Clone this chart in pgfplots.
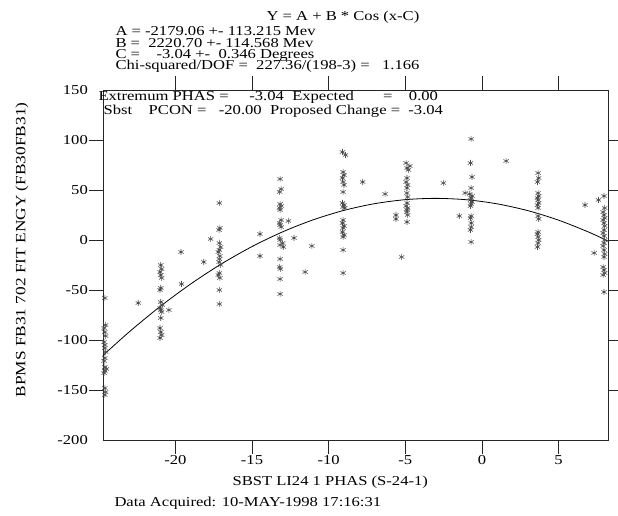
\documentclass[border=0pt]{standalone}
\usepackage{fontspec}
\setmainfont{Liberation Serif}[FakeStretch=1.22]
\usepackage{pgfplots}
\pgfplotsset{compat=1.18}
\newcommand\fs{\fontsize{13.6}{15}\selectfont}
\begin{document}
\begin{tikzpicture}[font=\fs]
\begin{axis}[
  scale only axis, width=505pt, height=350pt,
  xmin=-24.72, xmax=8.22, ymin=-200, ymax=150,
  clip=false,
  axis line style={black!85, line width=0.8pt},
  xtick pos=both, ytick pos=both,
  tick align=outside, major tick length=14pt,
  major tick style={black!85, line width=0.8pt},
  tick label style={font=\fs},
  xtick={-20,-15,-10,-5,0,5}, xticklabels={-20,-15,-10,-5,0,5},
  ytick={-150,-100,-50,0,50,100}, yticklabels={-150,-100,-50,0,50,100},
  extra y ticks={-200,150}, extra y tick labels={-200,150},
  extra y tick style={major tick style={draw=none}},
  xticklabel style={inner sep=1pt},
  yticklabel style={inner sep=1pt},
  xlabel={SBST LI24 1 PHAS (S-24-1)},
  xlabel style={at={(axis description cs:0.45,-0.1286)}, anchor=base, font=\fs},
  ylabel={BPMS FB31 702 FIT ENGY (FB30FB31)},
  ylabel style={at={(axis description cs:-0.1604,0.543)}, anchor=center, font=\fontsize{14.2}{15}\selectfont},
]
% fit Y = A + B cos(x-C)
\addplot[black, line width=0.8pt, smooth] coordinates {
  (-24.72,-115.43)(-23,-91.76)(-21,-66.60)(-19,-43.97)(-17,-23.94)(-15,-6.57)
  (-13,8.17)(-11,20.23)(-9,29.63)(-7,36.33)(-5,40.34)(-3.04,41.64)(-1,40.24)
  (1,36.13)(3,29.32)(5,19.81)(7,7.64)(8.22,-1.11)};
% measurements
\addplot[only marks, mark=asterisk, mark size=3pt, black!70, mark options={line width=0.6pt}] coordinates {
  (-24.6,-58)(-24.55,-85)(-24.65,-88)(-24.6,-92)(-24.55,-96)(-24.65,-102)(-24.6,-105)
  (-24.6,-108)(-24.55,-112)(-24.6,-118)(-24.65,-121)(-24.6,-127)(-24.5,-129)(-24.6,-131)
  (-24.65,-133)(-24.6,-148)(-24.55,-152)(-24.6,-155)
  (-20.95,-25)(-20.9,-29)(-21.0,-32)(-20.95,-35)(-20.9,-38)(-20.95,-48)(-21.0,-50)
  (-20.95,-62)(-20.85,-65)(-21.0,-68)(-20.95,-70)(-20.9,-72)(-20.95,-78)(-21.0,-88)
  (-20.95,-92)(-20.9,-95)(-21.0,-98)
  (-17.13,37)(-17.1,12)(-17.15,10)(-17.13,-3)(-17.05,-7)(-17.13,-10)(-17.2,-12)
  (-17.1,-16)(-17.13,-19)(-17.15,-22)(-17.05,-25)(-17.13,-33)(-17.2,-35)(-17.1,-38)
  (-17.13,-50)(-17.13,-64)
  (-13.17,61)(-13.1,51)(-13.2,48)(-13.17,36)(-13.1,34)(-13.2,32)(-13.17,30)
  (-13.1,20)(-13.2,17)(-13.17,15)(-13.1,13)(-13.2,2)(-13.17,0)(-13.0,-3)
  (-13.17,-5)(-12.96,-7)(-13.17,-19)(-13.2,-27)(-13.15,-29)(-13.17,-39)(-13.17,-54)
  (-9.1,88)(-8.9,85)(-9.06,68)(-9.0,65)(-9.1,62)(-9.06,58)(-9.0,55)
  (-9.06,48)(-9.1,37)(-9.0,35)(-9.06,33)(-8.95,32)(-9.06,20)(-9.1,17)
  (-9.0,14)(-9.06,12)(-9.1,8)(-9.0,5)(-9.06,3)(-9.06,-10)(-9.06,-33)
  (-4.95,77)(-4.7,74)(-4.89,72)(-4.8,70)(-4.89,62)(-4.95,58)(-4.85,55)
  (-4.89,52)(-4.9,47)(-4.85,43)(-4.89,37)(-4.95,34)(-4.85,32)(-4.89,30)
  (-4.9,28)(-4.85,25)(-4.89,18)
  (-0.71,101)(-0.75,77)(-0.65,63)(-0.71,52)(-0.8,46)(-0.65,44)(-0.71,42)
  (-0.75,40)(-0.65,38)(-0.71,36)(-0.75,34)(-0.71,24)(-0.75,22)(-0.7,17)
  (-0.71,13)(-0.75,10)(-0.71,-2)
  (3.66,67)(3.7,62)(3.62,58)(3.66,47)(3.7,44)(3.62,42)(3.66,40)
  (3.7,37)(3.62,35)(3.66,32)(3.66,24)(3.7,21)(3.66,8)(3.62,6)
  (3.66,3)(3.7,0)(3.66,-3)(3.62,-7)
  (7.96,44)(8.0,32)(7.9,28)(7.96,25)(8.0,22)(7.9,20)(7.96,17)
  (8.0,14)(7.96,10)(7.9,7)(7.96,4)(8.0,0)(7.96,-3)(7.9,-6)
  (7.96,-10)(8.0,-14)(7.96,-17)(7.9,-27)(7.96,-30)(8.0,-33)(7.9,-35)(7.96,-52)
  (-22.42,-63)(-20.42,-70)(-19.63,-12)(-19.6,-44)(-18.15,-22)(-17.7,1)
  (-14.48,6)(-14.48,-16)(-12.63,19)(-12.26,2)(-11.54,-32)(-11.1,-6)
  (-7.78,58)(-6.32,46)(-5.24,-17)(-5.61,25)(-5.61,21)(-2.52,57)
  (-1.48,24)(-1.1,47)(1.57,79)(6.72,35)(7.31,-13)(7.6,40)};
\node[anchor=base west] at (axis description cs:0.3168,1.198) {Y = A + B * Cos (x-C)};
\node[anchor=base west] at (axis description cs:0.0178,1.157) {A = -2179.06 +- 113.215 Mev};
\node[anchor=base west] at (axis description cs:0.0178,1.122) {B =\ \ 2220.70 +- 114.568 Mev};
\node[anchor=base west] at (axis description cs:0.0178,1.089) {C =\ \ \ \ -3.04 +-\ \ 0.346 Degrees};
\node[anchor=base west] at (axis description cs:0.0178,1.059) {Chi-squared/DOF =\ \ 227.36/(198-3) =\ \ \ 1.166};
\node[anchor=base west] at (axis description cs:-0.0158,0.9714) {Extremum PHAS =\ \ \ \ \ -3.04\ \ Expected\ \ \ \ \ \ \ =\ \ \ \ 0.00};
\node[anchor=base west] at (axis description cs:-0.0059,0.9314) {Sbst\ \ \ \ PCON =\ \ \ -20.00\ \ Proposed Change =\ \ -3.04};
\node[anchor=base west] at (axis description cs:0.0158,-0.1914) {Data Acquired: 10-MAY-1998 17:16:31};
\end{axis}
\pgfresetboundingbox
\path ([shift={(-103pt,-76pt)}]current axis.south west) rectangle ([shift={(515pt,440pt)}]current axis.south west);
\end{tikzpicture}
\end{document}
